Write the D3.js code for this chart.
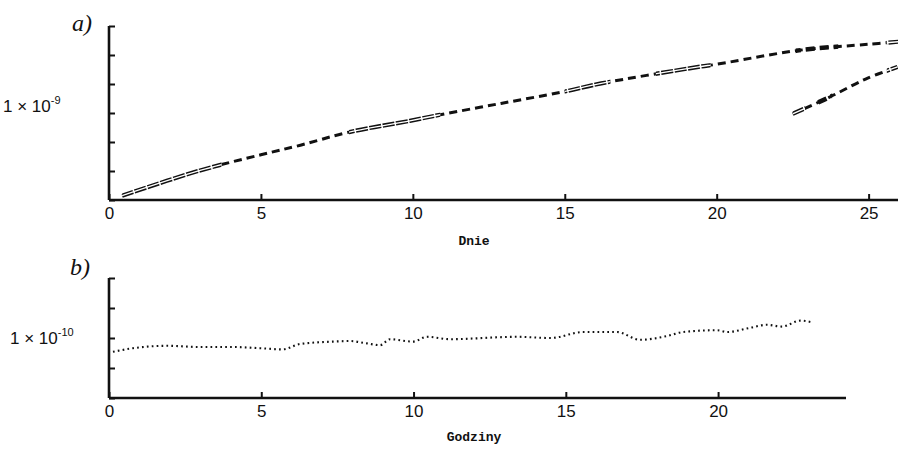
<!DOCTYPE html>
<html><head><meta charset="utf-8">
<script src="https://cdn.jsdelivr.net/npm/d3@7"></script>
<style>body{margin:0;background:#fff}svg{display:block}</style></head>
<body>
<svg id="c" width="898" height="450"></svg>
<script>
// Panel a) – days (Dnie), values in units of 1e-9
const daysMain = [0.43, 3.0, 5.0, 6.3, 7.9, 9.9, 10.9, 12.9, 14.9, 16.2, 19.4, 20.0, 22.7, 25.0, 26.0];
const valMain  = [0.05, 0.34, 0.52, 0.63, 0.78, 0.91, 0.98, 1.11, 1.24, 1.34, 1.53, 1.56, 1.72, 1.79, 1.82];
const daysSecond = [22.5, 23.7, 24.9, 25.95];
const valSecond  = [0.99, 1.18, 1.39, 1.53];
const hollowMain   = [[0.43, 3.7], [7.9, 10.9], [15.0, 16.5], [18.0, 19.8], [25.6, 26.0]];
const hollowSecond = [[22.5, 22.9], [25.6, 26.0]];
const thickMain    = [[22.6, 24.0]];
const thickSecond  = [[23.3, 23.8]];
const ticksDays = [0, 5, 10, 15, 20, 25];
const yTicksA = [0, 1/3, 2/3, 1, 4/3, 5/3, 2];

// Panel b) – hours (Godziny), values in units of 1e-10
const hours    = [0.13, 0.79, 1.9, 3.0, 4.07, 4.96, 5.7, 6.27, 7.36, 7.9, 8.47, 8.9, 9.23, 9.98, 10.44, 11.2, 13.4, 14.5, 15.57, 16.68, 17.44, 18.3, 18.85, 19.97, 20.3, 21.05, 21.6, 22.1, 22.7, 23.1];
const valHours = [0.77, 0.83, 0.87, 0.85, 0.85, 0.83, 0.81, 0.90, 0.94, 0.95, 0.91, 0.88, 0.98, 0.94, 1.02, 0.98, 1.02, 1.00, 1.10, 1.10, 0.97, 1.03, 1.10, 1.13, 1.10, 1.17, 1.22, 1.19, 1.29, 1.26];
const ticksHours = [0, 5, 10, 15, 20];
const yTicksB = [0, 0.5, 1, 1.5, 2];

const svg = d3.select("#c");
const ink = "#111";

// ---------- Panel a ----------
const xa = d3.scaleLinear().domain([0, 26]).range([109, 899]);
const ya = d3.scaleLinear().domain([0, 2]).range([200, 26]);

const gxa = svg.append("g").attr("transform", `translate(0,${ya(0)})`)
  .call(d3.axisBottom(xa).tickValues(ticksDays).tickSize(-6).tickPadding(7).tickFormat(d3.format("d")));
const gya = svg.append("g").attr("transform", `translate(${xa(0)},0)`)
  .call(d3.axisLeft(ya).tickValues(yTicksA).tickSize(-6).tickFormat(""));

// ---------- Panel b ----------
const xb = d3.scaleLinear().domain([0, 24.2]).range([109, 846]);
const yb = d3.scaleLinear().domain([0, 2]).range([398, 278]);

const gxb = svg.append("g").attr("transform", `translate(0,${yb(0)})`)
  .call(d3.axisBottom(xb).tickValues(ticksHours).tickSize(-6).tickPadding(7).tickFormat(d3.format("d")));
const gyb = svg.append("g").attr("transform", `translate(${xb(0)},0)`)
  .call(d3.axisLeft(yb).tickValues(yTicksB).tickSize(-6).tickFormat(""));

[gxa, gya, gxb, gyb].forEach(g => {
  g.select(".domain").attr("stroke", ink).attr("stroke-width", 2.6);
  g.selectAll(".tick line").attr("stroke", ink).attr("stroke-width", 2);
  g.selectAll(".tick text").attr("fill", ink)
    .style("font-family", "'Liberation Sans', Arial, sans-serif").style("font-size", "17px");
});
gya.select(".domain").attr("d", `M0,${ya(2)}V${ya(0)}`);
gyb.select(".domain").attr("d", `M0,${yb(2)}V${yb(0)}`);
gxa.select(".domain").attr("d", `M${xa(0)},0H${xa(26)}`);
gxb.select(".domain").attr("d", `M${xb(0)},0H${xb(24.2)}`);

// ---------- series a ----------
const lineA = d3.line().x(d => xa(d[0])).y(d => ya(d[1])).curve(d3.curveCatmullRom);
const mainPts = daysMain.map((d, i) => [d, valMain[i]]);
const secPts = daysSecond.map((d, i) => [d, valSecond[i]]);

const defs = svg.append("defs");
function clipFor(id, ranges) {
  const cp = defs.append("clipPath").attr("id", id);
  ranges.forEach(r => cp.append("rect").attr("x", xa(r[0])).attr("y", 0)
    .attr("width", xa(r[1]) - xa(r[0])).attr("height", 450));
  return `url(#${id})`;
}
function drawSeries(pts, hollow, thick, tag) {
  svg.append("path").datum(pts).attr("d", lineA).attr("fill", "none")
    .attr("stroke", ink).attr("stroke-width", 3).attr("stroke-dasharray", "8,5");
  const gT = svg.append("g").attr("clip-path", clipFor("thick" + tag, thick));
  gT.append("path").datum(pts).attr("d", lineA).attr("fill", "none")
    .attr("stroke", ink).attr("stroke-width", 4.5).attr("stroke-dasharray", "9,5");
  const gH = svg.append("g").attr("clip-path", clipFor("hollow" + tag, hollow));
  gH.append("path").datum(pts).attr("d", lineA).attr("fill", "none")
    .attr("stroke", "#fff").attr("stroke-width", 6);
  gH.append("path").datum(pts).attr("d", lineA).attr("fill", "none")
    .attr("stroke", ink).attr("stroke-width", 4.2).attr("stroke-dasharray", "12,1.5");
  gH.append("path").datum(pts).attr("d", lineA).attr("fill", "none")
    .attr("stroke", "#fff").attr("stroke-width", 1.4);
}
drawSeries(mainPts, hollowMain, thickMain, "M");
drawSeries(secPts, hollowSecond, thickSecond, "S");

// ---------- series b ----------
const lineB = d3.line().x(d => xb(d[0])).y(d => yb(d[1])).curve(d3.curveMonotoneX);
svg.append("path").datum(hours.map((h, i) => [h, valHours[i]])).attr("d", lineB)
  .attr("fill", "none").attr("stroke", ink).attr("stroke-width", 2.1)
  .attr("stroke-dasharray", "1.7,3.2");

// ---------- labels ----------
const sans = "'Liberation Sans', Arial, sans-serif";
const mono = "'Liberation Mono', 'Courier New', monospace";
svg.append("text").attr("x", 72).attr("y", 31).text("a)")
  .style("font-family", "'Liberation Serif', serif").style("font-style", "italic").style("font-size", "24px").attr("fill", ink);
svg.append("text").attr("x", 70).attr("y", 275).text("b)")
  .style("font-family", "'Liberation Serif', serif").style("font-style", "italic").style("font-size", "24px").attr("fill", ink);

function sciLabel(x, y, exp) {
  const t = svg.append("text").attr("x", x).attr("y", y).attr("fill", ink)
    .style("font-family", sans).style("font-size", "17px");
  t.append("tspan").text("1 × 10");
  t.append("tspan").attr("dy", -8).style("font-size", "11px").text(exp);
}
sciLabel(3, 112, "-9");
sciLabel(10, 344, "-10");

svg.append("text").attr("x", 474).attr("y", 245).attr("text-anchor", "middle").text("Dnie")
  .style("font-family", mono).style("font-weight", "bold").style("font-size", "13px").attr("fill", ink);
svg.append("text").attr("x", 474).attr("y", 441).attr("text-anchor", "middle").text("Godziny")
  .style("font-family", mono).style("font-weight", "bold").style("font-size", "13px").attr("fill", ink);
</script>
</body></html>
